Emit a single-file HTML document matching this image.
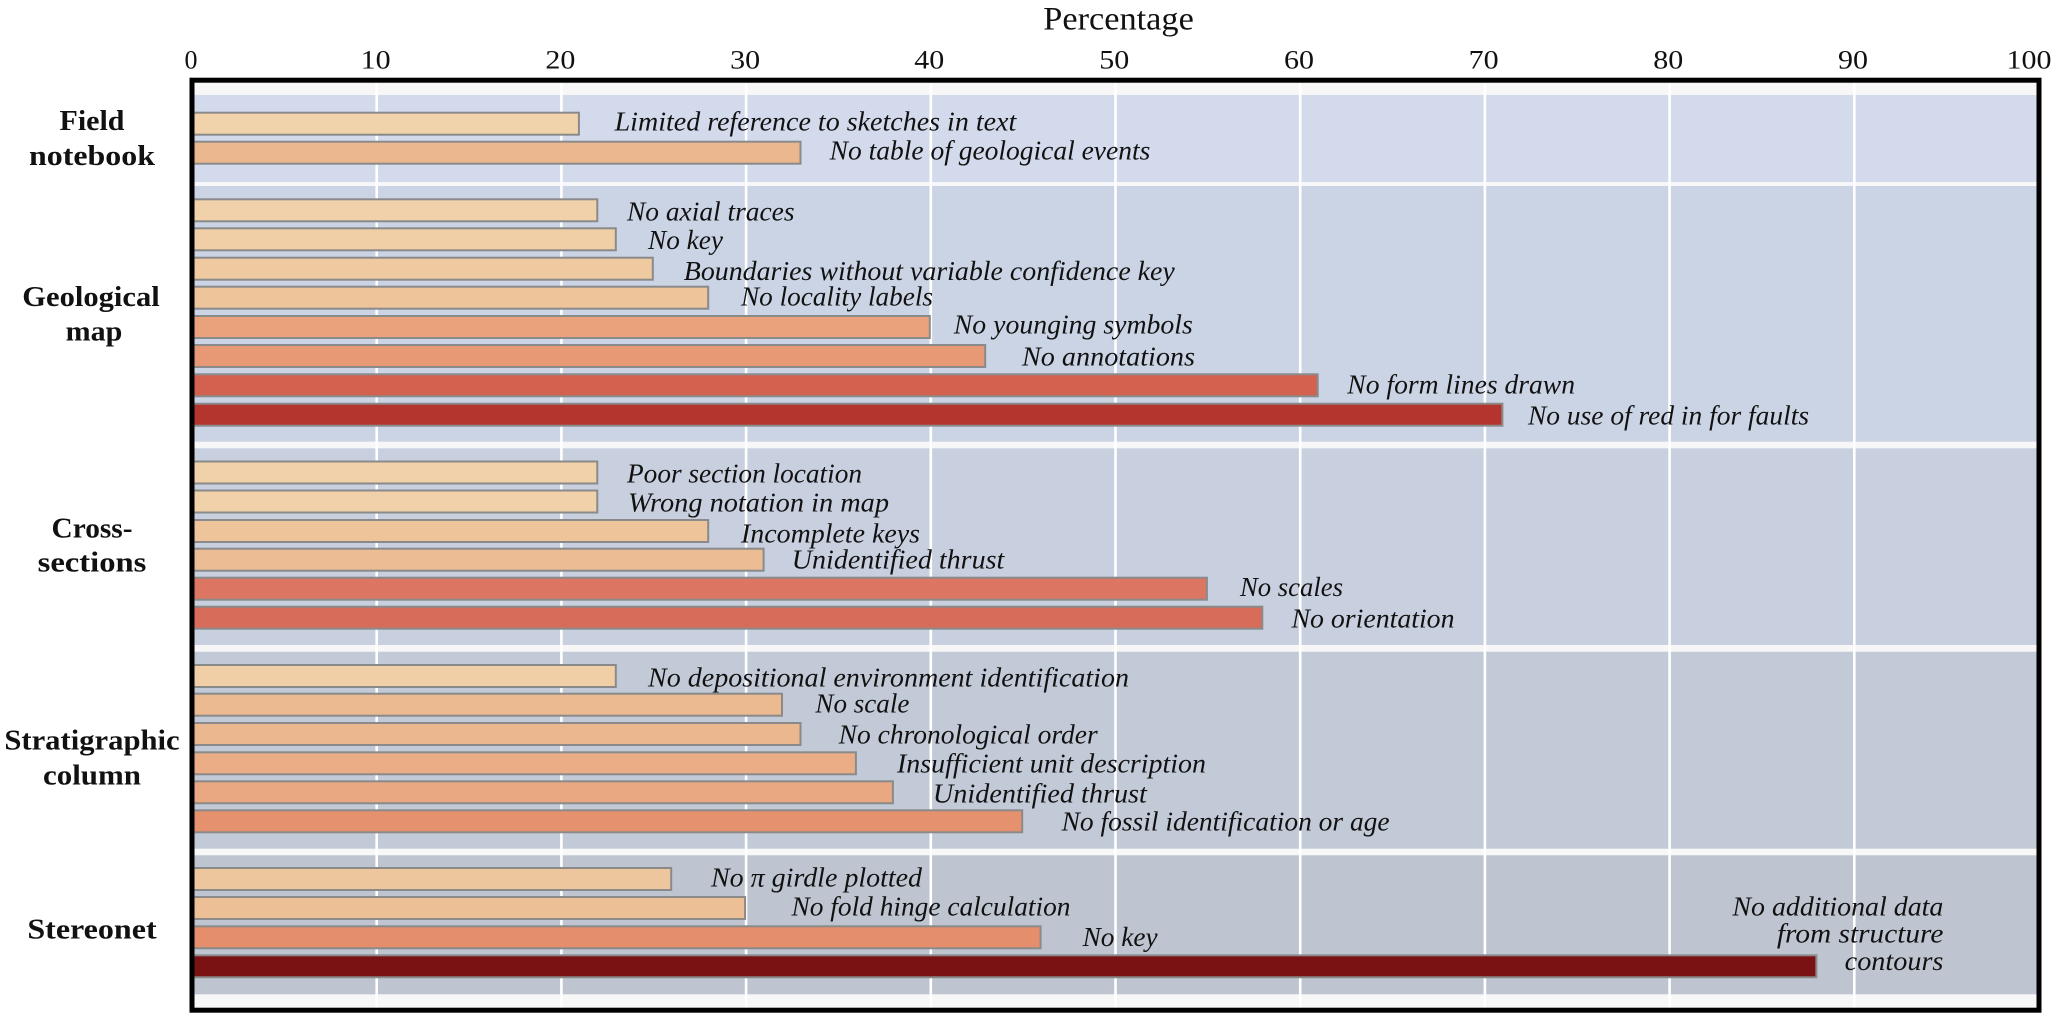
<!DOCTYPE html>
<html>
<head>
<meta charset="utf-8">
<style>
html,body{margin:0;padding:0;background:#ffffff;}
svg{display:block;}
.t{font-family:"Liberation Serif",serif;fill:#111;}
.it{font-family:"Liberation Serif",serif;font-style:italic;font-size:27px;fill:#111;}
.bl{font-family:"Liberation Serif",serif;font-weight:bold;font-size:29px;fill:#111;}
.tk{font-family:"Liberation Serif",serif;font-size:26px;fill:#111;}
</style>
</head>
<body>
<svg width="2055" height="1016" viewBox="0 0 2055 1016" xmlns="http://www.w3.org/2000/svg">
<rect x="0" y="0" width="2055" height="1016" fill="#ffffff"/>

<!-- title -->
<text class="t" x="1043.3" y="29.3" font-size="33" textLength="150.5" lengthAdjust="spacingAndGlyphs">Percentage</text>

<!-- tick labels -->
<text class="tk" x="191" y="68.3" text-anchor="middle">0</text>
<text class="tk" x="375.7" y="68.3" text-anchor="middle" textLength="30" lengthAdjust="spacingAndGlyphs">10</text>
<text class="tk" x="560.4" y="68.3" text-anchor="middle" textLength="30" lengthAdjust="spacingAndGlyphs">20</text>
<text class="tk" x="745.1" y="68.3" text-anchor="middle" textLength="30" lengthAdjust="spacingAndGlyphs">30</text>
<text class="tk" x="929.3" y="68.3" text-anchor="middle" textLength="30" lengthAdjust="spacingAndGlyphs">40</text>
<text class="tk" x="1114.3" y="68.3" text-anchor="middle" textLength="30" lengthAdjust="spacingAndGlyphs">50</text>
<text class="tk" x="1299" y="68.3" text-anchor="middle" textLength="30" lengthAdjust="spacingAndGlyphs">60</text>
<text class="tk" x="1483.6" y="68.3" text-anchor="middle" textLength="30" lengthAdjust="spacingAndGlyphs">70</text>
<text class="tk" x="1668.3" y="68.3" text-anchor="middle" textLength="30" lengthAdjust="spacingAndGlyphs">80</text>
<text class="tk" x="1853" y="68.3" text-anchor="middle" textLength="30" lengthAdjust="spacingAndGlyphs">90</text>
<text class="tk" x="2006.5" y="68.3" textLength="45" lengthAdjust="spacingAndGlyphs">100</text>

<!-- plot background -->
<rect x="194" y="82" width="1843" height="926" fill="#f7f7f7"/>
<rect x="194" y="95" width="1843" height="87" fill="#d2daeb"/>
<rect x="194" y="186" width="1843" height="255.7" fill="#cbd4e4"/>
<rect x="194" y="448.3" width="1843" height="196.7" fill="#c8d0df"/>
<rect x="194" y="651.7" width="1843" height="197" fill="#c3cad7"/>
<rect x="194" y="855.3" width="1843" height="139" fill="#bec5d0"/>

<!-- gridlines -->
<g stroke="#ffffff" stroke-width="2.6">
<line x1="376.7" y1="82" x2="376.7" y2="1008"/>
<line x1="561.4" y1="82" x2="561.4" y2="1008"/>
<line x1="746.1" y1="82" x2="746.1" y2="1008"/>
<line x1="930.8" y1="82" x2="930.8" y2="1008"/>
<line x1="1115.5" y1="82" x2="1115.5" y2="1008"/>
<line x1="1300.2" y1="82" x2="1300.2" y2="1008"/>
<line x1="1484.9" y1="82" x2="1484.9" y2="1008"/>
<line x1="1669.6" y1="82" x2="1669.6" y2="1008"/>
<line x1="1854.3" y1="82" x2="1854.3" y2="1008"/>
</g>

<!-- bars -->
<g stroke="#8a8a8a" stroke-width="2">
<!-- Field notebook -->
<rect x="193" y="112.7" width="385.9" height="22" fill="#f1d3ab"/>
<rect x="193" y="141.7" width="607.5" height="22" fill="#ebb78e"/>
<!-- Geological map -->
<rect x="193" y="199.3" width="404.3" height="22" fill="#f0d1a9"/>
<rect x="193" y="228.3" width="422.8" height="22" fill="#f0cfa7"/>
<rect x="193" y="257.7" width="459.8" height="22" fill="#efcaa1"/>
<rect x="193" y="286.7" width="515.2" height="22" fill="#eec49b"/>
<rect x="193" y="316" width="736.8" height="22" fill="#e9a27b"/>
<rect x="193" y="345" width="792.2" height="22" fill="#e79874"/>
<rect x="193" y="374.3" width="1124.7" height="22" fill="#d26150"/>
<rect x="193" y="403.7" width="1309.4" height="22" fill="#b4352d"/>
<!-- Cross-sections -->
<rect x="193" y="461.5" width="404.3" height="22" fill="#f0d1a9"/>
<rect x="193" y="490.5" width="404.3" height="22" fill="#f0d1a9"/>
<rect x="193" y="520" width="515.2" height="22" fill="#eec49b"/>
<rect x="193" y="548.7" width="570.6" height="22" fill="#ecbd94"/>
<rect x="193" y="577.7" width="1013.9" height="22" fill="#dc7663"/>
<rect x="193" y="606.7" width="1069.3" height="22" fill="#d86c5b"/>
<!-- Stratigraphic column -->
<rect x="193" y="665" width="422.8" height="22" fill="#f0cfa7"/>
<rect x="193" y="693.7" width="589" height="22" fill="#ecba91"/>
<rect x="193" y="723" width="607.5" height="22" fill="#ebb78e"/>
<rect x="193" y="752.3" width="662.9" height="22" fill="#eaad85"/>
<rect x="193" y="781.3" width="699.9" height="22" fill="#e9a882"/>
<rect x="193" y="810.3" width="829.2" height="22" fill="#e5916d"/>
<!-- Stereonet -->
<rect x="193" y="868" width="478.2" height="22" fill="#eec69d"/>
<rect x="193" y="897" width="552.1" height="22" fill="#edbf96"/>
<rect x="193" y="926.3" width="847.6" height="22" fill="#e48e6b"/>
<rect x="193" y="955.3" width="1623.4" height="22" fill="#7a1214"/>
</g>

<!-- frame -->
<rect x="192" y="80.2" width="1847" height="930" fill="none" stroke="#000" stroke-width="5"/>

<!-- category labels -->
<g class="bl" text-anchor="middle">
<text x="92" y="130" textLength="65" lengthAdjust="spacingAndGlyphs">Field</text>
<text x="92" y="165" textLength="126" lengthAdjust="spacingAndGlyphs">notebook</text>
<text x="91" y="306" textLength="137.5" lengthAdjust="spacingAndGlyphs">Geological</text>
<text x="94" y="340.7" textLength="56.7" lengthAdjust="spacingAndGlyphs">map</text>
<text x="92" y="537.3" textLength="81" lengthAdjust="spacingAndGlyphs">Cross-</text>
<text x="92" y="571.7" textLength="108.7" lengthAdjust="spacingAndGlyphs">sections</text>
<text x="92" y="749.3" textLength="175.3" lengthAdjust="spacingAndGlyphs">Stratigraphic</text>
<text x="92" y="784.3" textLength="98" lengthAdjust="spacingAndGlyphs">column</text>
<text x="92" y="938.3" textLength="129.3" lengthAdjust="spacingAndGlyphs">Stereonet</text>
</g>

<!-- bar labels -->
<g class="it">
<text x="614.6" y="130.7" textLength="401.7" lengthAdjust="spacingAndGlyphs">Limited reference to sketches in text</text>
<text x="829.7" y="159.3" textLength="320.6" lengthAdjust="spacingAndGlyphs">No table of geological events</text>

<text x="627" y="220.7" textLength="167.5" lengthAdjust="spacingAndGlyphs">No axial traces</text>
<text x="648" y="249" textLength="75" lengthAdjust="spacingAndGlyphs">No key</text>
<text x="683.8" y="280" textLength="491" lengthAdjust="spacingAndGlyphs">Boundaries without variable confidence key</text>
<text x="741" y="305.7" textLength="192" lengthAdjust="spacingAndGlyphs">No locality labels</text>
<text x="953.8" y="333.3" textLength="239" lengthAdjust="spacingAndGlyphs">No younging symbols</text>
<text x="1022" y="365.7" textLength="173" lengthAdjust="spacingAndGlyphs">No annotations</text>
<text x="1347.3" y="393.3" textLength="227.7" lengthAdjust="spacingAndGlyphs">No form lines drawn</text>
<text x="1528" y="424.3" textLength="281" lengthAdjust="spacingAndGlyphs">No use of red in for faults</text>

<text x="627" y="482.7" textLength="235" lengthAdjust="spacingAndGlyphs">Poor section location</text>
<text x="628" y="511.7" textLength="261" lengthAdjust="spacingAndGlyphs">Wrong notation in map</text>
<text x="741" y="542.7" textLength="179" lengthAdjust="spacingAndGlyphs">Incomplete keys</text>
<text x="791.8" y="568.3" textLength="212.5" lengthAdjust="spacingAndGlyphs">Unidentified thrust</text>
<text x="1240" y="596" textLength="103" lengthAdjust="spacingAndGlyphs">No scales</text>
<text x="1291.5" y="627.3" textLength="163" lengthAdjust="spacingAndGlyphs">No orientation</text>

<text x="648" y="686.3" textLength="481" lengthAdjust="spacingAndGlyphs">No depositional environment identification</text>
<text x="815.4" y="712.7" textLength="94" lengthAdjust="spacingAndGlyphs">No scale</text>
<text x="838.7" y="743.3" textLength="259" lengthAdjust="spacingAndGlyphs">No chronological order</text>
<text x="897" y="772.5" textLength="309" lengthAdjust="spacingAndGlyphs">Insufficient unit description</text>
<text x="932.9" y="802.5" textLength="214" lengthAdjust="spacingAndGlyphs">Unidentified thrust</text>
<text x="1061.6" y="830.3" textLength="328" lengthAdjust="spacingAndGlyphs">No fossil identification or age</text>

<text x="711" y="886.7" textLength="211" lengthAdjust="spacingAndGlyphs">No π girdle plotted</text>
<text x="791.5" y="915.3" textLength="279" lengthAdjust="spacingAndGlyphs">No fold hinge calculation</text>
<text x="1082.6" y="946" textLength="75" lengthAdjust="spacingAndGlyphs">No key</text>
<text x="1732.4" y="915.3" textLength="211" lengthAdjust="spacingAndGlyphs">No additional data</text>
<text x="1776.9" y="942.7" textLength="166.5" lengthAdjust="spacingAndGlyphs">from structure</text>
<text x="1844.7" y="970" textLength="98.7" lengthAdjust="spacingAndGlyphs">contours</text>
</g>
</svg>
</body>
</html>
